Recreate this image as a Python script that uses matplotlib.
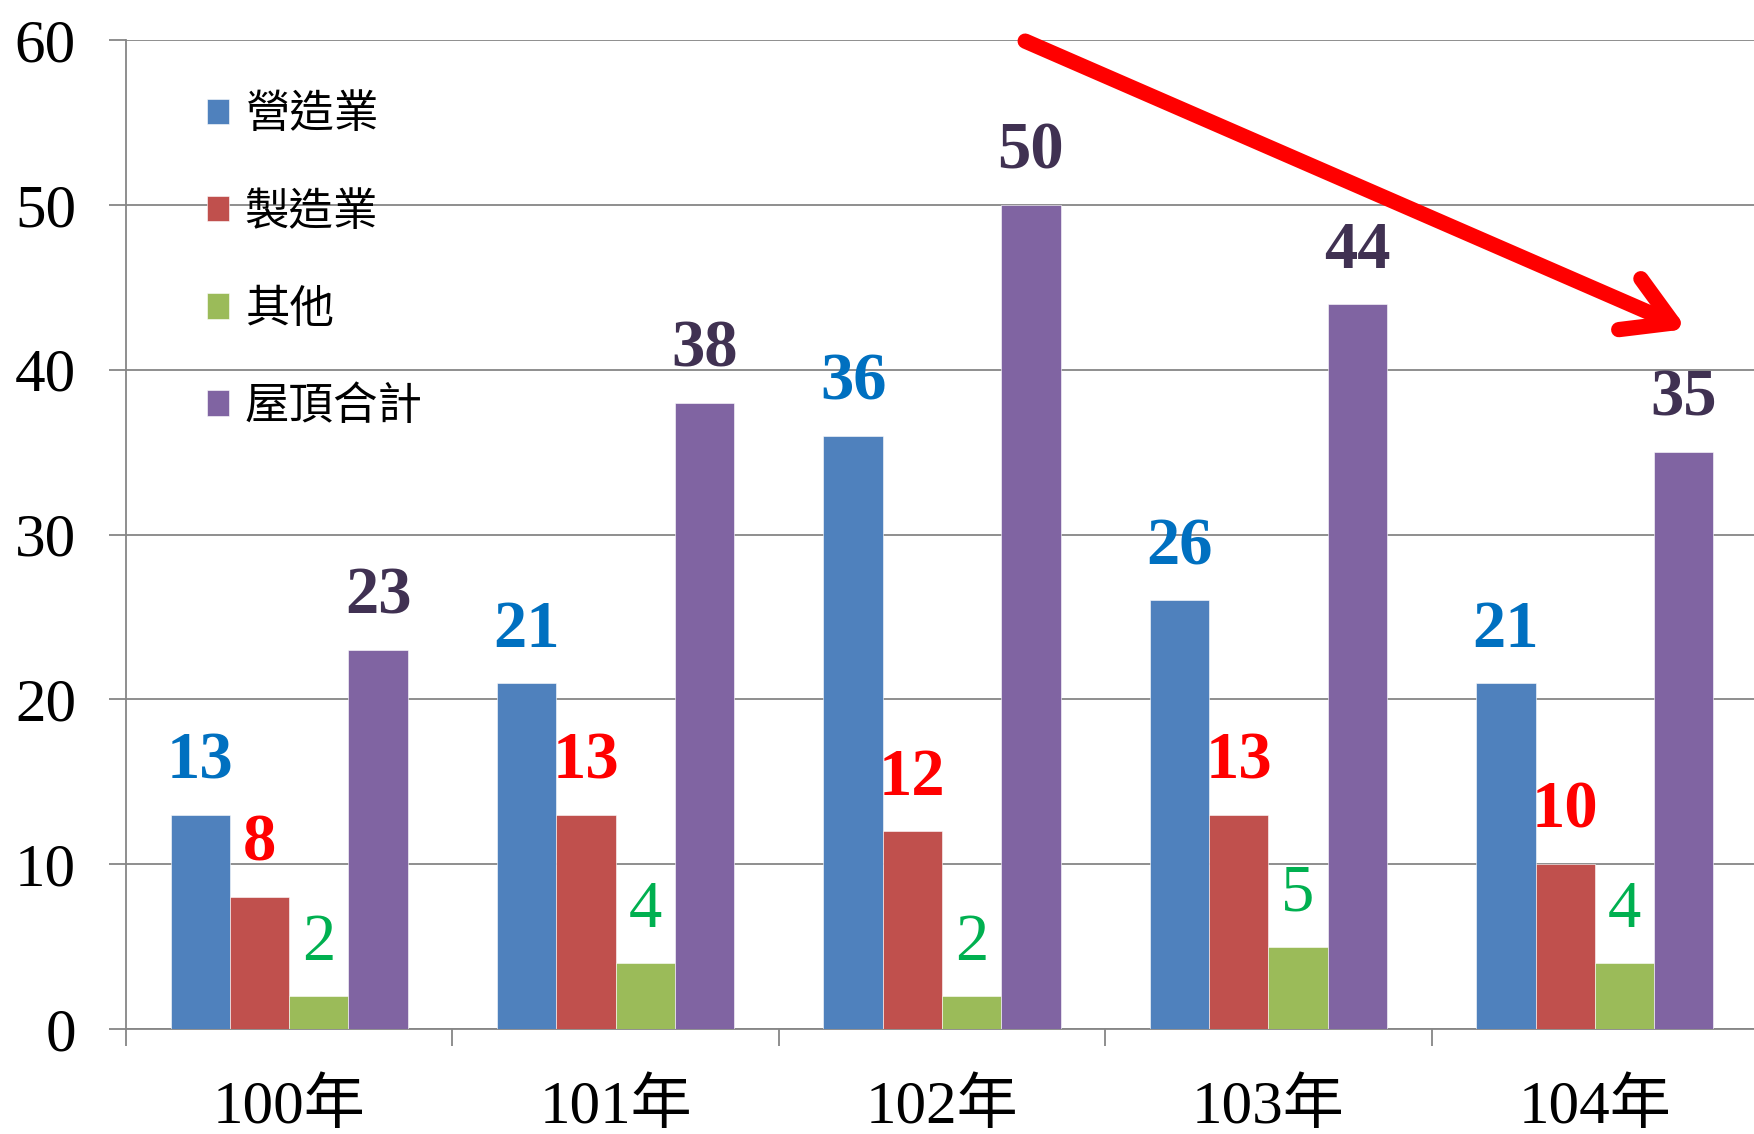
import numpy as np
import matplotlib.pyplot as plt
from matplotlib.patches import FancyArrowPatch

# dati
anni = ['100年', '101年', '102年', '103年', '104年']
serie = ['營造業', '製造業', '其他', '屋頂合計']
costruzioni = [13, 21, 36, 26, 21]
manifattura = [8, 13, 12, 13, 10]
altro = [2, 4, 2, 5, 4]
totale = [23, 38, 50, 44, 35]

colori_barre = ['#4F81BD', '#C0504D', '#9BBB59', '#8064A2']
colori_etichette = ['#0070C0', '#FF0000', '#00B050', '#403152']
font_num = ['Liberation Serif', 'Noto Sans CJK TC', 'DejaVu Sans']

plt.rcParams['font.family'] = font_num

fig = plt.figure(figsize=(17.54, 11.34), dpi=100)
ax = fig.add_axes([126/1754, 105/1134, 1632/1754, 989/1134])

x = np.arange(len(anni))
w = 0.1816
valori = [costruzioni, manifattura, altro, totale]
for i, (vals, nome) in enumerate(zip(valori, serie)):
    pos = x + (i - 1.5) * w
    ax.bar(pos, vals, width=w, color=colori_barre[i], label=nome,
           edgecolor='white', linewidth=0.4, zorder=3)
    peso = 'normal' if i == 2 else 'bold'
    for px, v in zip(pos, vals):
        ax.annotate(str(v), (px, v), xytext=(0, 16), textcoords='offset points',
                    ha='center', va='bottom', fontsize=48, color=colori_etichette[i],
                    fontweight=peso, family=font_num)

ax.set_xlim(-0.5, 4.5)
ax.set_ylim(0, 60)
ax.set_yticks(range(0, 61, 10))
ax.yaxis.grid(True, color='#868686', linewidth=1.3, zorder=0)
ax.tick_params(axis='y', length=12, width=1.3, color='#868686', labelsize=44, pad=24)

# tick ai bordi delle categorie, etichette al centro
ax.set_xticks(np.arange(-0.5, 4.0, 1.0))
ax.set_xticklabels([])
ax.set_xticks(x, minor=True)
ax.set_xticklabels(anni, minor=True)
ax.tick_params(axis='x', which='major', length=12, width=1.3, color='#868686')
ax.tick_params(axis='x', which='minor', length=0, labelsize=44, pad=36)

for s in ['top', 'right']:
    ax.spines[s].set_visible(False)
for s in ['left', 'bottom']:
    ax.spines[s].set_color('#868686')
    ax.spines[s].set_linewidth(1.3)

ax.legend(loc='upper left', bbox_to_anchor=(0.0496, 0.948), frameon=False,
          prop={'family': ['Noto Sans CJK TC'], 'size': 32},
          handlelength=0.5, handleheight=0.5, handletextpad=0.35,
          labelspacing=1.15, borderpad=0, borderaxespad=0)

# freccia rossa
freccia = FancyArrowPatch((2.247, 60.0), (4.29, 42.4), arrowstyle='->,head_length=3.4,head_width=2.0',
                          mutation_scale=10, color='#FF0000', linewidth=11, clip_on=False, zorder=5)
ax.add_patch(freccia)

plt.savefig('out.png', dpi=100)
